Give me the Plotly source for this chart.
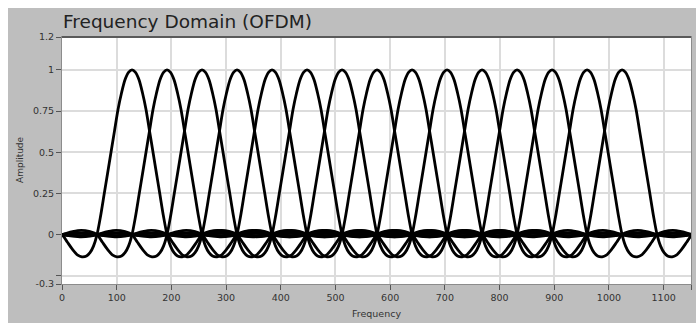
import plotly.graph_objects as go

# Sub-carrier centre frequencies (read from the peaks)
centers = [128, 192, 256, 320, 384, 448, 512, 576, 640, 704, 768, 832, 896, 960, 1024]
spacing = 64

# One sub-carrier's shape (offset in units of the spacing, amplitude), right half
half_offsets = [0, 0.1, 0.2, 0.3, 0.4, 0.5, 0.6, 0.7, 0.8, 0.9, 1.0, 1.1, 1.2, 1.3, 1.43, 1.55,
                1.7, 1.85, 2.0, 2.2, 2.45, 2.7, 3.0, 3.2, 3.45, 3.7, 4.0, 4.45, 5.0, 5.45, 6.0,
                6.45, 7.0, 7.45, 8.0]
half_values = [1.0, 0.985, 0.94, 0.86, 0.76, 0.63, 0.50, 0.37, 0.24, 0.11, 0.0, -0.07, -0.11, -0.13,
               -0.135, -0.125, -0.09, -0.045, 0.0, 0.018, 0.026, 0.018, 0.0, -0.009, -0.013, -0.009,
               0.0, 0.011, 0.0, -0.009, 0.0, 0.008, 0.0, -0.007, 0.0]

x_ticks = [0, 100, 200, 300, 400, 500, 600, 700, 800, 900, 1000, 1100, 1150]
x_ticktext = ["0", "100", "200", "300", "400", "500", "600", "700", "800", "900", "1000", "1100", "1150"]
y_ticks = [-0.3, -0.25, 0, 0.25, 0.5, 0.75, 1, 1.2]
y_ticktext = ["-0.3", "", "0", "0.25", "0.5", "0.75", "1", "1.2"]

prof_off = [-o for o in half_offsets[::-1]] + half_offsets[1:]
prof_val = half_values[::-1] + half_values[1:]

fig = go.Figure()
for c in centers:
    fig.add_trace(go.Scatter(
        x=[c + o * spacing for o in prof_off], y=prof_val, mode="lines",
        line=dict(color="black", width=2.8, shape="spline", smoothing=0.8),
        showlegend=False, hoverinfo="skip"))

W, H = 696, 323
ml, mr, mt, mb = 62, 5, 37, 39
pw, ph = W - ml - mr, H - mt - mb

def px(xp):
    return (xp - ml) / pw

def py(yp):
    return (H - mb - yp) / ph

grey = "#bebebe"
font = "DejaVu Sans"
fig.update_layout(
    width=W, height=H, margin=dict(l=ml, r=mr, t=mt, b=mb),
    paper_bgcolor=grey, plot_bgcolor="white",
    font=dict(family=font, size=9, color="#333333"),
    xaxis=dict(range=[0, 1150], tickvals=x_ticks, ticktext=x_ticktext,
               showgrid=True, gridcolor="#dcdcdc", gridwidth=1.5,
               ticks="outside", ticklen=5, tickcolor="#555555", tickwidth=1,
               showline=True, linecolor="#8c8c8c", linewidth=1, mirror=True,
               zeroline=False, tickfont=dict(size=9.5, color="#333333")),
    yaxis=dict(range=[-0.3, 1.2], tickvals=y_ticks, ticktext=y_ticktext,
               showgrid=True, gridcolor="#dcdcdc", gridwidth=1.5,
               ticks="outside", ticklen=5, tickcolor="#555555", tickwidth=1,
               showline=True, linecolor="#8c8c8c", linewidth=1, mirror=True,
               zeroline=False, tickfont=dict(size=9.5, color="#333333")),
    shapes=[
        dict(type="rect", xref="paper", yref="paper", x0=px(0), x1=px(8), y0=py(H), y1=py(0),
             fillcolor="white", line=dict(width=0), layer="below"),
        dict(type="rect", xref="paper", yref="paper", x0=px(0), x1=px(W), y0=py(8), y1=py(0),
             fillcolor="white", line=dict(width=0), layer="below"),
        dict(type="line", xref="paper", yref="paper", x0=0, x1=1, y0=1, y1=1,
             line=dict(color="#5a5a5a", width=2)),
    ],
    annotations=[
        dict(text="Frequency Domain (OFDM)", xref="paper", yref="paper", x=px(61), y=py(21),
             xanchor="left", yanchor="middle", showarrow=False,
             font=dict(family=font, size=18.5, color="#222222")),
        dict(text="Amplitude", xref="paper", yref="paper", x=px(20), y=py(160),
             xanchor="center", yanchor="middle", textangle=-90, showarrow=False,
             font=dict(family=font, size=9, color="#333333")),
        dict(text="Frequency", xref="paper", yref="paper", x=px(376), y=py(313),
             xanchor="center", yanchor="middle", showarrow=False,
             font=dict(family=font, size=9.5, color="#333333")),
    ],
)

fig.write_html("out.html")
